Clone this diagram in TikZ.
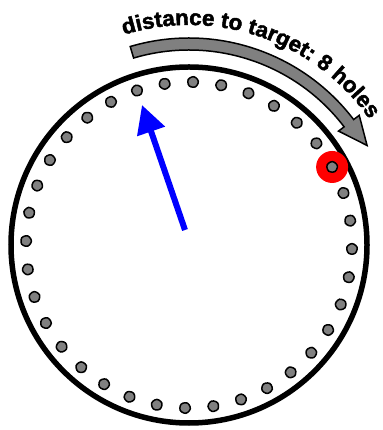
\documentclass[tikz,border=0pt]{standalone}
\usepackage{fontspec}
\newfontfamily\lblfont{Liberation Sans}[BoldFeatures={FakeBold=2,FakeStretch=1.02}]
\usetikzlibrary{arrows.meta,shapes.geometric,decorations.text}
\definecolor{holegray}{RGB}{128,128,128}
\definecolor{arrowgray}{RGB}{128,128,128}
\definecolor{pointerblue}{RGB}{0,0,255}
\definecolor{targetred}{RGB}{255,0,0}
\tikzset{
  wheel/.style={draw=black,line width=5.5pt,circle,minimum size=356pt,inner sep=0pt},
  hole/.style={draw=black,fill=holegray,line width=1.5pt,regular polygon,regular polygon sides=5,minimum size=12.5pt,inner sep=0pt,rounded corners=2.5pt},
  target/.style={circle,fill=targetred,minimum size=32pt,inner sep=0pt},
  pointer/.style={draw=pointerblue,line width=6pt,-{Triangle[length=28pt,width=28pt]}},
  distarrow/.style={draw=black,fill=arrowgray,line width=1.5pt,line join=miter},
}
\begin{document}
\begin{tikzpicture}[x=1pt,y=1pt]
\useasboundingbox[fill=white] (0,0) rectangle (382,430);
\coordinate (C) at (189,185);
\node[wheel] (wheel) at (C) {};
\node[target] (tgt) at ([shift={(28.6:163)}]C) {};
\foreach \i in {0,...,35}{
  \pgfmathsetmacro{\ang}{-1.4+10*\i}
  \node[hole,rotate=\i*47] (h\i) at ([shift={(\ang:163)}]C) {};
}
% blue pointer
\coordinate (ptail) at (185,200);
\coordinate (ptip) at (142,325);
\draw[pointer] (ptail) -- (ptip);
% gray distance arrow
\coordinate (gtip) at ([shift={(29.2:204)}]C);
\draw[distarrow] ([shift={(106.5:207)}]C) arc[start angle=106.5,end angle=37.3,radius=207]
  -- ([shift={(37.3:214)}]C) -- (gtip) -- ([shift={(37.3:188)}]C)
  -- ([shift={(37.3:195)}]C) arc[start angle=37.3,end angle=106.5,radius=195] -- cycle;
% label
\path[decorate,decoration={text along path,text align=center,
  text={|\lblfont\bfseries\fontsize{22}{22}\selectfont|distance to target: 8 holes}}]
  ([shift={(110:220)}]C) arc[start angle=110,end angle=32,radius=220];
\end{tikzpicture}
\end{document}
